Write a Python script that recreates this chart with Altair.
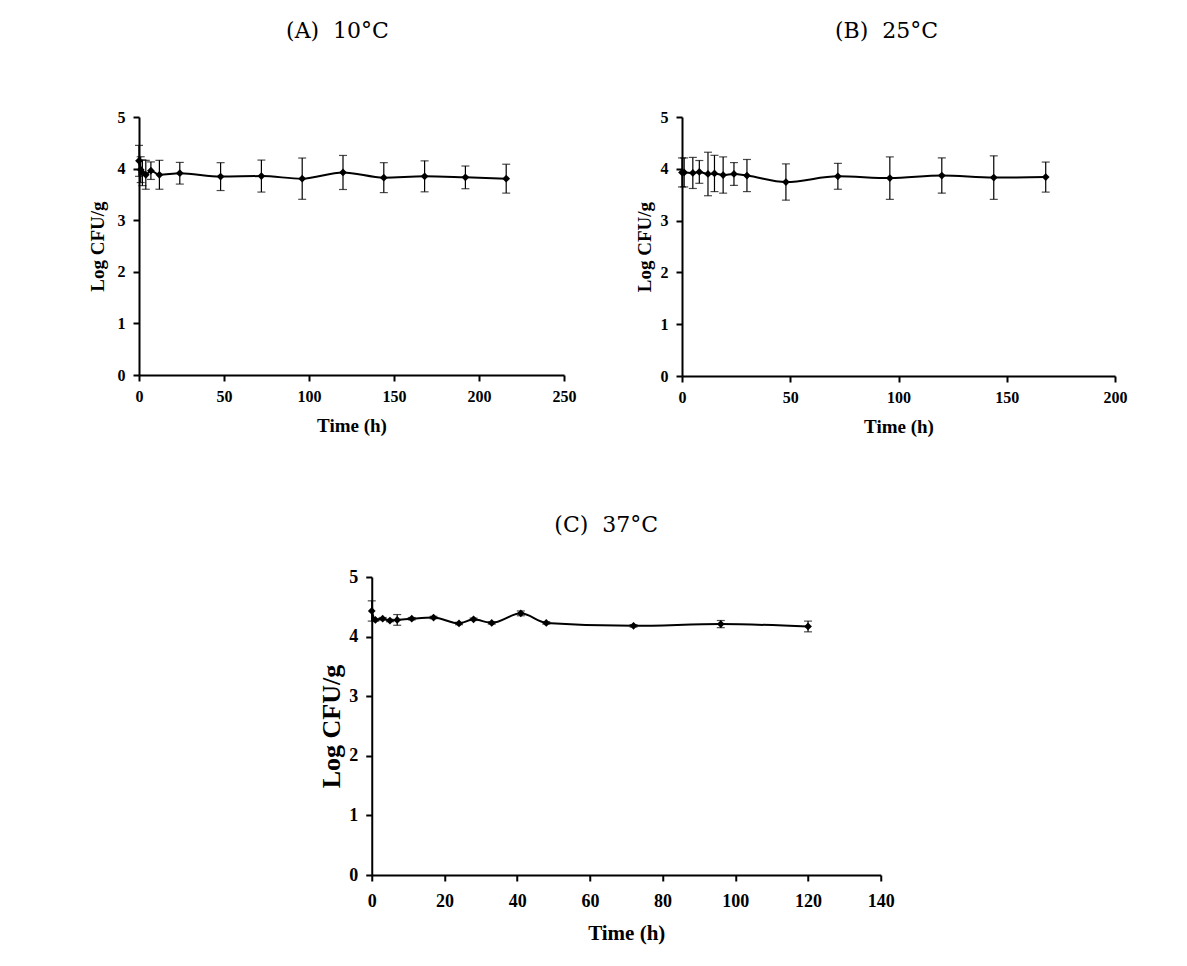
import altair as alt
import pandas as pd

# ---- data ----
time_a = [0, 1, 2, 4, 7, 12, 24, 48, 72, 96, 120, 144, 168, 192, 216]
mean_a = [4.15, 3.98, 3.92, 3.88, 3.96, 3.88, 3.91, 3.845, 3.855, 3.805, 3.925, 3.825, 3.85, 3.83, 3.805]
sd_a = [0.30, 0.25, 0.25, 0.28, 0.17, 0.28, 0.21, 0.27, 0.31, 0.40, 0.33, 0.29, 0.30, 0.22, 0.28]

time_b = [0, 1, 5, 8, 12, 15, 19, 24, 30, 48, 72, 96, 120, 144, 168]
mean_b = [3.93, 3.93, 3.92, 3.94, 3.90, 3.91, 3.88, 3.90, 3.87, 3.745, 3.855, 3.82, 3.87, 3.83, 3.84]
sd_b = [0.28, 0.28, 0.30, 0.22, 0.42, 0.35, 0.35, 0.22, 0.31, 0.35, 0.25, 0.41, 0.34, 0.42, 0.29]

time_c = [0, 1, 3, 5, 7, 11, 17, 24, 28, 33, 41, 48, 72, 96, 120]
mean_c = [4.43, 4.28, 4.30, 4.27, 4.28, 4.30, 4.32, 4.22, 4.29, 4.23, 4.39, 4.23, 4.18, 4.21, 4.17]
sd_c = [0.17, 0.02, 0.02, 0.02, 0.09, 0.02, 0.02, 0.02, 0.02, 0.02, 0.04, 0.02, 0.02, 0.06, 0.09]

titles = ["(A)\u00a0 10°C", "(B)\u00a0 25°C", "(C)\u00a0 37°C"]
x_max = [250, 200, 140]
x_step = [50, 50, 20]
y_ticks = [0, 1, 2, 3, 4, 5]

SERIF = "Liberation Serif"


def panel(times, means, sds, title, xmax, xstep, w, h, lab_fs, xt_fs, yt_fs,
          title_offset, title_dx, ytitle_pad, xlab_pad, xtitle_pad):
    df = pd.DataFrame({"t": times, "m": means, "sd": sds})
    df["lo"] = df["m"] - df["sd"]
    df["hi"] = df["m"] + df["sd"]
    common = dict(grid=False, domainColor="black", domainWidth=2, tickColor="black",
                  tickWidth=2, tickSize=6, labelColor="black", titleColor="black",
                  labelFont=SERIF, titleFont=SERIF, labelFontWeight="bold",
                  titleFontWeight="bold", labelFontSize=lab_fs)
    xax = alt.Axis(values=list(range(0, xmax + 1, xstep)), title="Time (h)", format="d",
                   titleFontSize=xt_fs, titlePadding=xtitle_pad, labelPadding=xlab_pad,
                   labelFlush=False, **common)
    yax = alt.Axis(values=y_ticks, title="Log CFU/g", format="d",
                   titleFontSize=yt_fs, titlePadding=ytitle_pad, labelPadding=8, **common)
    base = alt.Chart(df).encode(
        x=alt.X("t:Q", scale=alt.Scale(domain=[0, xmax], nice=False), axis=xax),
        y=alt.Y("m:Q", scale=alt.Scale(domain=[0, 5], nice=False), axis=yax),
    )
    rule = base.mark_rule(color="black", strokeWidth=1.2).encode(y="lo:Q", y2="hi:Q")
    cap_hi = base.mark_tick(color="black", orient="horizontal", size=8, thickness=1.2).encode(y="hi:Q")
    cap_lo = base.mark_tick(color="black", orient="horizontal", size=8, thickness=1.2).encode(y="lo:Q")
    line = base.mark_line(color="black", strokeWidth=2, interpolate="monotone")
    pts = base.mark_point(shape="diamond", filled=True, color="black", size=60, opacity=1)
    return alt.layer(rule, cap_hi, cap_lo, line, pts).properties(
        width=w, height=h,
        title=alt.TitleParams(text=title, font="DejaVu Serif", fontSize=22, fontWeight="normal",
                              color="black", anchor="middle", frame="group",
                              offset=title_offset, dx=title_dx),
    )


pa = panel(time_a, mean_a, sd_a, titles[0], x_max[0], x_step[0], 425, 258, 16, 19, 19, 66, -14, 10, 7, 12)
pb = panel(time_b, mean_b, sd_b, titles[1], x_max[1], x_step[1], 433, 259, 16, 19, 19, 66, -12, 6, 7, 12)
pc = panel(time_c, mean_c, sd_c, titles[2], x_max[2], x_step[2], 509, 298, 18, 21, 26, 31, -20, 4, 11, 12)

top = alt.hconcat(pa, pb, spacing=59)
chart = alt.vconcat(top, pc, spacing=78, center=True).properties(
    padding={"left": 80, "top": 12, "right": 5, "bottom": 5}
).configure_view(stroke=None)

chart.save("out.html", embed_options={"renderer": "svg", "actions": False})
